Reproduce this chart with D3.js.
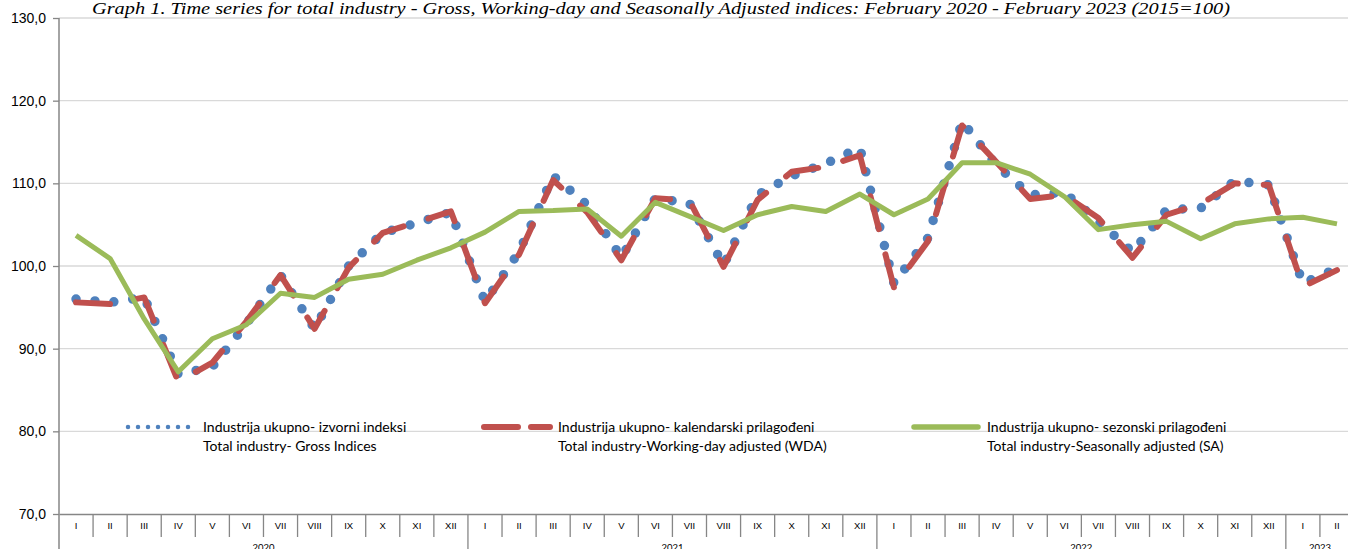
<!DOCTYPE html>
<html>
<head>
<meta charset="utf-8">
<script src="https://cdn.jsdelivr.net/npm/d3@7"></script>
<style>
  body { margin: 0; background: #fff; }
  svg { display: block; font-family: Lato, "Liberation Sans", sans-serif; }
</style>
</head>
<body>
<svg id="chart"></svg>
<script>
// Data: January 2020 - February 2023 (2015=100)
const romans = ["I", "II", "III", "IV", "V", "VI", "VII", "VIII", "IX", "X", "XI", "XII"];
const years = ["2020", "2021", "2022", "2023"];
const monthsPerYear = [12, 12, 12, 2];

const gross = [
  96.0, 95.6, 96.2, 86.9, 87.8, 93.0, 98.9, 92.4, 100.0, 104.0, 105.2, 106.5,
  95.7, 101.7, 110.9, 107.4, 101.0, 108.2, 107.6, 100.1, 108.6, 110.9, 112.4, 114.3,
  97.9, 103.4, 117.5, 112.2, 108.6, 108.9, 105.4, 101.7, 106.8, 107.0, 110.3, 109.8,
  97.9, 99.7
];
const wda = [
  95.6, 95.4, 96.2, 86.0, 88.3, 93.3, 98.9, 92.4, 99.8, 104.0, 105.3, 106.6,
  95.5, 101.4, 110.4, 106.5, 100.7, 108.2, 107.9, 99.9, 108.0, 111.4, 112.0, 113.4,
  97.4, 103.0, 117.0, 112.6, 108.1, 108.6, 105.8, 101.0, 106.2, 107.5, 110.0, 109.8,
  97.5, 99.5
];
const sa = [
  103.7, 100.9, 93.6, 87.2, 91.2, 92.9, 96.7, 96.2, 98.4, 99.0, 100.7, 102.2,
  104.1, 106.6, 106.7, 106.9, 103.6, 107.7, 106.0, 104.3, 106.2, 107.2, 106.6, 108.7,
  106.2, 108.1, 112.5, 112.5, 111.1, 108.4, 104.4, 105.0, 105.4, 103.3, 105.1, 105.7,
  105.9, 105.1
];
const yTicks = [70, 80, 90, 100, 110, 120, 130];

const legendItems = [
  { line1: "Industrija ukupno- izvorni indeksi", line2: "Total industry- Gross Indices" },
  { line1: "Industrija ukupno- kalendarski prilagođeni", line2: "Total industry-Working-day adjusted (WDA)" },
  { line1: "Industrija ukupno- sezonski prilagođeni", line2: "Total industry-Seasonally adjusted (SA)" }
];

// build category list (one per month)
const categories = [];
years.forEach((yr, yi) => {
  for (let m = 0; m < monthsPerYear[yi]; m++) {
    categories.push({ key: yr + "-" + (m + 1), year: yr, label: romans[m] });
  }
});

const W = 1348, H = 549;
const plot = { left: 59, right: 1354, top: 18, bottom: 514 };

const svg = d3.select("#chart")
  .attr("width", W)
  .attr("height", H);

const x = d3.scaleBand()
  .domain(categories.map(d => d.key))
  .range([plot.left, plot.right])
  .paddingInner(0)
  .paddingOuter(0);

const y = d3.scaleLinear()
  .domain([70, 130])
  .range([plot.bottom, plot.top]);

const cx = i => x(categories[i].key) + x.bandwidth() / 2;

// gridlines
svg.append("g")
  .selectAll("line")
  .data(yTicks.filter(v => v > 70))
  .enter()
  .append("line")
  .attr("x1", plot.left)
  .attr("x2", plot.right)
  .attr("y1", d => y(d))
  .attr("y2", d => y(d))
  .attr("stroke", "#d9d9d9")
  .attr("stroke-width", 1.3);

// y axis
const yAxis = svg.append("g")
  .attr("transform", `translate(${plot.left},0)`)
  .call(d3.axisLeft(y)
    .tickValues(yTicks)
    .tickSize(6)
    .tickPadding(7)
    .tickFormat(d => d.toFixed(1).replace(".", ",")));
yAxis.select(".domain").remove();
yAxis.selectAll(".tick line").attr("stroke", "#868686").attr("stroke-width", 1.3);
yAxis.selectAll(".tick text")
  .attr("fill", "#000")
  .style("font-size", "14px");

svg.append("line")
  .attr("x1", plot.left).attr("x2", plot.left)
  .attr("y1", plot.top).attr("y2", H)
  .attr("stroke", "#868686").attr("stroke-width", 1.5);

// x axis (month labels)
const xAxis = svg.append("g")
  .attr("transform", `translate(0,${plot.bottom})`)
  .call(d3.axisBottom(x)
    .tickSize(0)
    .tickPadding(8)
    .tickFormat((d, i) => categories[i].label));
xAxis.select(".domain")
  .attr("stroke", "#868686")
  .attr("stroke-width", 1.5);
xAxis.selectAll(".tick text")
  .attr("fill", "#000")
  .style("font-size", "9.5px");

// separators between months and longer ones between years
svg.append("g")
  .selectAll("line")
  .data(categories.slice(1))
  .enter()
  .append("line")
  .attr("x1", d => x(d.key))
  .attr("x2", d => x(d.key))
  .attr("y1", plot.bottom)
  .attr("y2", d => d.label === "I" ? H : plot.bottom + 23)
  .attr("stroke", "#868686")
  .attr("stroke-width", 1.3);

// year labels
years.forEach((yr, yi) => {
  const group = categories.filter(c => c.year === yr);
  const x0 = x(group[0].key);
  const x1 = Math.min(x(group[group.length - 1].key) + x.bandwidth(), plot.right);
  svg.append("text")
    .attr("x", (x0 + x1) / 2)
    .attr("y", 551)
    .attr("text-anchor", "middle")
    .style("font-size", "9.5px")
    .attr("fill", "#000")
    .text(yr);
});

// series
const line = d3.line()
  .x((d, i) => cx(i))
  .y(d => y(d));

svg.append("path")
  .datum(gross)
  .attr("d", line)
  .attr("fill", "none")
  .attr("stroke", "#4f81bd")
  .attr("stroke-width", 9.5)
  .attr("stroke-linecap", "round")
  .attr("stroke-dasharray", "0,19");

svg.append("path")
  .datum(wda)
  .attr("d", line)
  .attr("fill", "none")
  .attr("stroke", "#c0504d")
  .attr("stroke-width", 6)
  .attr("stroke-linecap", "round")
  .attr("stroke-linejoin", "round")
  .attr("stroke-dasharray", "34,26");

svg.append("path")
  .datum(sa)
  .attr("d", line)
  .attr("fill", "none")
  .attr("stroke", "#9bbb59")
  .attr("stroke-width", 5)
  .attr("stroke-linejoin", "round");

// legend
const legend = svg.append("g");
const legendX = [{ s0: 128, s1: 196, t: 203 }, { s0: 484, s1: 550, t: 558 }, { s0: 914, s1: 978, t: 987 }];
const legendStyles = [
  { color: "#4f81bd", width: 4.5, dash: "0,10", cap: "round" },
  { color: "#c0504d", width: 6, dash: "34,13", cap: "round" },
  { color: "#9bbb59", width: 5.5, dash: null, cap: "round" }
];
legendItems.forEach((item, i) => {
  const p = legendX[i], s = legendStyles[i];
  legend.append("line")
    .attr("x1", p.s0).attr("x2", p.s1)
    .attr("y1", 427).attr("y2", 427)
    .attr("stroke", s.color)
    .attr("stroke-width", s.width)
    .attr("stroke-linecap", s.cap)
    .attr("stroke-dasharray", s.dash);
  legend.append("text")
    .attr("x", p.t).attr("y", 432)
    .style("font-size", "14px")
    .attr("fill", "#000")
    .text(item.line1);
  legend.append("text")
    .attr("x", p.t).attr("y", 451)
    .style("font-size", "14px")
    .attr("fill", "#000")
    .text(item.line2);
});

// title
svg.append("text")
  .attr("x", 661)
  .attr("y", 14)
  .attr("text-anchor", "middle")
  .attr("textLength", 1138)
  .attr("lengthAdjust", "spacingAndGlyphs")
  .style("font-family", "'Liberation Serif', 'DejaVu Serif', serif")
  .style("font-style", "italic")
  .style("font-size", "17.5px")
  .attr("fill", "#000")
  .text("Graph 1. Time series for total industry - Gross, Working-day and Seasonally Adjusted indices: February 2020 - February  2023 (2015=100)");
</script>
</body>
</html>
